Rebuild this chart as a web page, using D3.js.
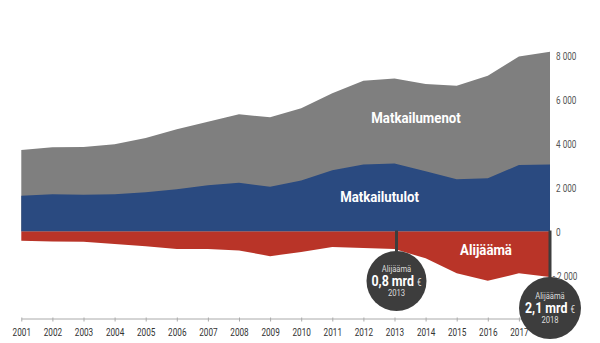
<!DOCTYPE html>
<html><head><meta charset="utf-8">
<script src="https://cdn.jsdelivr.net/npm/d3@7"></script>
<style>
html,body{margin:0;padding:0;background:#fff;}
svg{display:block;font-family:"Roboto","Open Sans",sans-serif;}
</style></head><body>
<svg id="c" width="600" height="343"></svg>
<script>
const years = [2001,2002,2003,2004,2005,2006,2007,2008,2009,2010,2011,2012,2013,2014,2015,2016,2017,2018];
// Matkailutulot (income), M€
const tulot = [1630,1690,1670,1690,1780,1920,2100,2220,2030,2320,2780,3050,3090,2740,2370,2420,3020,3050];
// Matkailumenot (expenditure), M€ (stacked on top of income)
const menot = [2070,2140,2170,2280,2470,2730,2890,3110,3160,3280,3500,3800,3870,3960,4260,4660,4930,5120];
// Alijäämä (deficit), M€
const alijaama = [-420,-450,-470,-570,-670,-790,-800,-860,-1120,-930,-700,-750,-800,-1220,-1900,-2240,-1900,-2070];
const yTicks = [-2000,0,2000,4000,6000,8000];
const callouts = [
  {year:2013, head:"Alijäämä", value:"0,8 mrd", unit:"€", sub:"2013"},
  {year:2018, head:"Alijäämä", value:"2,1 mrd", unit:"€", sub:"2018"}
];

const COND = 0.82; // emulate a condensed typeface
const svg = d3.select("#c");
const x = d3.scaleLinear().domain([2001,2018]).range([21.3,550]);
const y = d3.scaleLinear().domain([-2000,8000]).range([275.5,55.5]);

const data = years.map((yr,i)=>({yr, t:tulot[i], m:menot[i], a:alijaama[i]}));

const areaG = d3.area().x(d=>x(d.yr)).y0(y(0)).y1(d=>y(d.t+d.m));
const areaB = d3.area().x(d=>x(d.yr)).y0(y(0)).y1(d=>y(d.t));
const areaR = d3.area().x(d=>x(d.yr)).y0(y(0)).y1(d=>y(d.a));

svg.append("path").datum(data).attr("d",areaG).attr("fill","#7f7f7f");
svg.append("path").datum(data).attr("d",areaB).attr("fill","#2a4a80");
svg.append("path").datum(data).attr("d",areaR).attr("fill","#b93428");

// x axis
const xAxis = d3.axisBottom(x).tickValues(years).tickFormat(d3.format("d")).tickSize(4).tickSizeOuter(0);
const gx = svg.append("g").attr("transform","translate(0,318.5)").call(xAxis);
gx.select(".domain").attr("stroke","#aaa");
gx.selectAll(".tick line").attr("stroke","#aaa").attr("y1",-1).attr("y2",3);
gx.selectAll(".tick text").attr("fill","#333").attr("font-size","10px").attr("y",10)
  .attr("font-family","Roboto, sans-serif").attr("transform",`scale(${COND},1)`);

// helper: condensed text anchored at (xx,yy)
function ctext(xx,yy,sx){
  return svg.append("g").attr("transform",`translate(${xx},${yy})`)
    .append("text").attr("transform",`scale(${sx},1)`).attr("text-anchor","middle").attr("dy","0.35em");
}

// area labels
const lab = (t,xx,yy)=>ctext(xx,yy,0.88).attr("fill","#fff").attr("font-weight","bold").attr("font-size","15px").text(t);
lab("Matkailumenot",416,118);
lab("Matkailutulot",379.5,197);
lab("Alijäämä",486,250);

// callouts
const cpos = [{dx:2, cy:281, r:30},{dx:0, cy:308, r:31}];
callouts.forEach((c,i)=>{
  const cx = x(c.year)+cpos[i].dx, cy = cpos[i].cy, r = cpos[i].r;
  svg.append("line").attr("x1",cx).attr("x2",cx).attr("y1",y(0)-1).attr("y2",cy)
    .attr("stroke","#3d3d3d").attr("stroke-width",3);
  svg.append("circle").attr("cx",cx).attr("cy",cy).attr("r",r).attr("fill","#3d3d3d");
  ctext(cx,cy-12.5,0.8).attr("fill","#ddd").attr("font-size","9.5px").text(c.head);
  const t = ctext(cx,cy,0.8).attr("fill","#fff").attr("font-size","15.5px").attr("font-weight","bold");
  t.append("tspan").text(c.value+" ");
  t.append("tspan").attr("font-size","10px").attr("font-weight","normal").attr("fill","#ddd").text(c.unit);
  ctext(cx,cy+11.5,0.85).attr("fill","#ddd").attr("font-size","9px").text(c.sub);
});

// y axis on right, labels only (drawn last, above the callouts)
const fmt = v => (v<0 ? "- " : "") + d3.format(",")(Math.abs(v)).replace(/,/g," ");
const yAxis = d3.axisRight(y).tickValues(yTicks).tickFormat(fmt).tickSize(0).tickPadding(0);
const gy = svg.append("g").attr("transform","translate(556,0)").call(yAxis);
gy.select(".domain").remove();
gy.selectAll(".tick text").attr("fill","#555").attr("font-size","10px").attr("dy","0.4em")
  .attr("font-family","Roboto, sans-serif")
  .attr("x", d => d<0 ? -4 : 0).attr("transform",`scale(${COND},1)`);
</script>
</body></html>
